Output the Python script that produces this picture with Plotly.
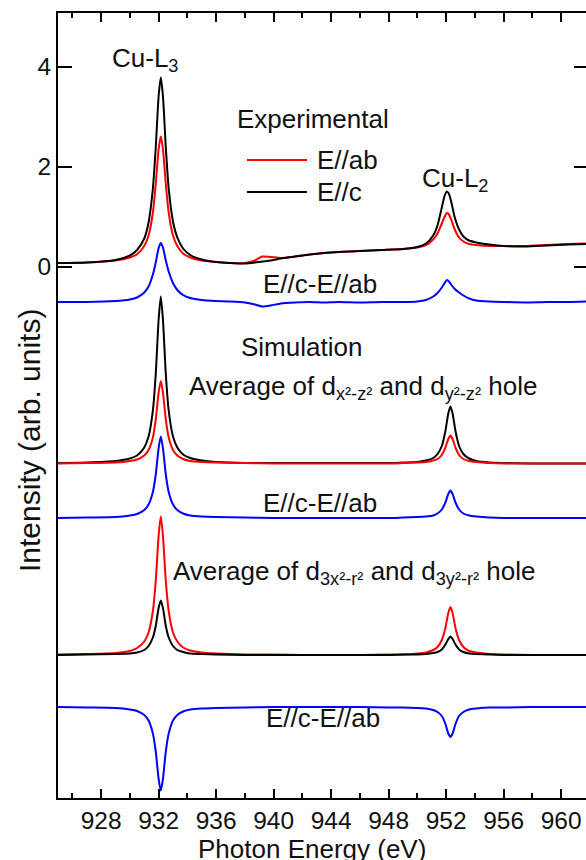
import plotly.graph_objects as go

# ---------------- data ----------------
energy_exp = [925, 927, 929, 930, 930.5, 931, 931.3, 931.6, 931.8, 932.0, 932.15, 932.3, 932.5, 932.7,
              933.0, 933.3, 933.7, 934.2, 935, 936, 937, 938, 938.7, 939.2, 939.8, 940.5, 941.5, 942.5,
              943.5, 944.5, 946, 947.5, 949, 950, 950.6, 951.1, 951.4, 951.7, 951.9, 952.05, 952.2,
              952.4, 952.6, 952.9, 953.2, 953.6, 954.1, 955, 956, 957.5, 959, 960.5, 961.8]

exp_c = [0.07, 0.08, 0.13, 0.22, 0.33, 0.56, 0.88, 1.56, 2.38, 3.41, 3.78, 3.41, 2.38, 1.56,
         0.9, 0.58, 0.36, 0.23, 0.14, 0.09, 0.07, 0.06, 0.08, 0.1, 0.12, 0.16, 0.2, 0.24,
         0.27, 0.29, 0.31, 0.33, 0.35, 0.39, 0.46, 0.62, 0.82, 1.18, 1.42, 1.5, 1.45,
         1.24, 0.98, 0.74, 0.6, 0.52, 0.48, 0.44, 0.41, 0.4, 0.42, 0.44, 0.45]

exp_ab = [0.07, 0.08, 0.12, 0.18, 0.245, 0.41, 0.62, 1.08, 1.65, 2.35, 2.6, 2.35, 1.65, 1.08,
          0.62, 0.41, 0.26, 0.18, 0.12, 0.09, 0.07, 0.07, 0.12, 0.2, 0.19, 0.17, 0.2, 0.24,
          0.27, 0.29, 0.31, 0.33, 0.35, 0.38, 0.43, 0.54, 0.66, 0.86, 1.0, 1.07, 1.04,
          0.9, 0.74, 0.58, 0.5, 0.45, 0.43, 0.41, 0.41, 0.41, 0.43, 0.45, 0.46]

exp_diff = [-0.71, -0.71, -0.69, -0.66, -0.62, -0.52, -0.4, -0.16, 0.08, 0.37, 0.47, 0.38, 0.12, -0.1,
            -0.33, -0.47, -0.57, -0.63, -0.67, -0.69, -0.7, -0.72, -0.76, -0.8, -0.78, -0.74, -0.72, -0.71,
            -0.72, -0.71, -0.72, -0.71, -0.71, -0.7, -0.67, -0.6, -0.53, -0.42, -0.33, -0.27, -0.3,
            -0.38, -0.45, -0.52, -0.58, -0.64, -0.68, -0.7, -0.71, -0.72, -0.71, -0.71, -0.7]

energy_sim = [925, 927, 929, 930, 930.5, 931, 931.3, 931.6, 931.8, 932.0, 932.15, 932.3, 932.5, 932.7,
              933.0, 933.3, 933.7, 934.2, 935, 936, 938, 940, 942, 944, 946, 948, 949, 950, 950.6,
              951.1, 951.4, 951.7, 951.95, 952.15, 952.3, 952.45, 952.65, 952.9, 953.2, 953.6, 954.1,
              955, 956, 958, 960, 961.8]

sim1_c = [-3.93, -3.92, -3.89, -3.84, -3.78, -3.62, -3.40, -2.88, -2.15, -1.06, -0.60, -1.06, -2.15, -2.88,
          -3.40, -3.62, -3.76, -3.83, -3.88, -3.91, -3.93, -3.93, -3.93, -3.93, -3.93, -3.93, -3.92, -3.91, -3.88,
          -3.83, -3.75, -3.59, -3.29, -2.94, -2.80, -2.94, -3.29, -3.59, -3.75, -3.84, -3.89,
          -3.92, -3.93, -3.94, -3.94, -3.94]

sim1_ab = [-3.94, -3.93, -3.92, -3.89, -3.86, -3.78, -3.67, -3.42, -3.06, -2.52, -2.29, -2.52, -3.06, -3.42,
           -3.67, -3.78, -3.85, -3.89, -3.91, -3.92, -3.93, -3.94, -3.94, -3.94, -3.94, -3.94, -3.93, -3.92, -3.91,
           -3.88, -3.85, -3.77, -3.62, -3.45, -3.38, -3.45, -3.62, -3.77, -3.85, -3.89, -3.91,
           -3.93, -3.94, -3.94, -3.94, -3.94]

sim1_diff = [-5.03, -5.02, -5.01, -4.98, -4.95, -4.87, -4.76, -4.51, -4.16, -3.63, -3.40, -3.63, -4.16, -4.51,
             -4.76, -4.87, -4.94, -4.98, -5.00, -5.01, -5.02, -5.03, -5.03, -5.03, -5.03, -5.03, -5.02, -5.01, -5.00,
             -4.98, -4.94, -4.86, -4.72, -4.55, -4.48, -4.55, -4.72, -4.86, -4.94, -4.98, -5.00,
             -5.02, -5.03, -5.03, -5.03, -5.03]

sim2_ab = [-7.76, -7.75, -7.73, -7.69, -7.63, -7.50, -7.32, -6.89, -6.29, -5.38, -5.00, -5.38, -6.29, -6.89,
           -7.32, -7.50, -7.62, -7.68, -7.72, -7.74, -7.76, -7.76, -7.77, -7.77, -7.77, -7.76, -7.76, -7.74, -7.72,
           -7.67, -7.61, -7.47, -7.23, -6.93, -6.81, -6.93, -7.23, -7.47, -7.61, -7.69, -7.72,
           -7.75, -7.76, -7.77, -7.77, -7.77]

sim2_c = [-7.77, -7.76, -7.75, -7.74, -7.72, -7.67, -7.59, -7.42, -7.19, -6.83, -6.68, -6.83, -7.19, -7.42,
          -7.59, -7.67, -7.71, -7.74, -7.75, -7.76, -7.77, -7.77, -7.77, -7.77, -7.77, -7.77, -7.76, -7.76, -7.75,
          -7.73, -7.71, -7.66, -7.56, -7.45, -7.40, -7.45, -7.56, -7.66, -7.71, -7.74, -7.75,
          -7.76, -7.77, -7.77, -7.77, -7.77]

sim2_diff = [-8.81, -8.82, -8.83, -8.86, -8.89, -8.97, -9.08, -9.34, -9.70, -10.25, -10.48, -10.25, -9.70, -9.34,
             -9.08, -8.97, -8.90, -8.86, -8.84, -8.83, -8.82, -8.81, -8.81, -8.81, -8.81, -8.82, -8.82, -8.83, -8.84,
             -8.87, -8.91, -8.99, -9.15, -9.34, -9.41, -9.34, -9.15, -8.99, -8.91, -8.86, -8.84,
             -8.82, -8.82, -8.81, -8.81, -8.81]

x_ticks = [928, 932, 936, 940, 944, 948, 952, 956, 960]
y_ticks = [0, 2, 4]
x_range = [925, 961.73]
y_range = [-10.63, 5.07]

RED = "#ff0000"
BLACK = "#000000"
BLUE = "#0000ff"
FONT = "Arial, 'Liberation Sans', Helvetica, sans-serif"

fig = go.Figure()

def add(x, y, color):
    fig.add_trace(go.Scatter(x=x, y=y, mode="lines", line=dict(color=color, width=2, shape="spline", smoothing=0.6),
                             showlegend=False, hoverinfo="skip"))

add(energy_exp, exp_ab, RED)
add(energy_exp, exp_c, BLACK)
add(energy_exp, exp_diff, BLUE)
add(energy_sim, sim1_c, BLACK)
add(energy_sim, sim1_ab, RED)
add(energy_sim, sim1_diff, BLUE)
add(energy_sim, sim2_ab, RED)
add(energy_sim, sim2_c, BLACK)
add(energy_sim, sim2_diff, BLUE)

# dummy trace for right-side ticks
fig.add_trace(go.Scatter(x=[None], y=[None], yaxis="y2", showlegend=False, hoverinfo="skip"))

ann_font = dict(family=FONT, size=26, color="#111")
annotations = [
    dict(text="Cu-L<sub>3</sub>", x=931.05, y=4.15),
    dict(text="Experimental", x=942.74, y=2.95),
    dict(text="E//ab", x=942.9, y=2.13, xanchor="left"),
    dict(text="E//c", x=942.9, y=1.49, xanchor="left"),
    dict(text="Cu-L<sub>2</sub>", x=952.62, y=1.75),
    dict(text="E//c-E//ab", x=943.2, y=-0.35),
    dict(text="Simulation", x=941.97, y=-1.61),
    dict(text="Average of d<sub>x²-z²</sub> and d<sub>y²-z²</sub> hole", x=946.2, y=-2.42),
    dict(text="E//c-E//ab", x=943.2, y=-4.73),
    dict(text="Average of d<sub>3x²-r²</sub> and d<sub>3y²-r²</sub> hole", x=945.66, y=-6.12),
    dict(text="E//c-E//ab", x=943.4, y=-9.03),
]
for a in annotations:
    a.setdefault("xanchor", "center")
    fig.add_annotation(xref="x", yref="y", showarrow=False, yanchor="middle", font=ann_font, **a)

# axis titles as annotations (pixel-placed)
fig.add_annotation(text="Photon Energy (eV)", xref="paper", yref="paper", x=(312 - 58) / 528, y=-(849 - 798) / 785,
                   showarrow=False, xanchor="center", yanchor="middle", font=ann_font)
fig.add_annotation(text="Intensity (arb. units)", xref="paper", yref="paper", x=-(58 - 29) / 528, y=(798 - 441) / 785,
                   showarrow=False, xanchor="center", yanchor="middle", textangle=-90,
                   font=dict(family=FONT, size=30, color="#111"))

# legend key lines
fig.add_shape(type="line", xref="x", yref="y", x0=938.15, x1=942.32, y0=2.13, y1=2.13, line=dict(color=RED, width=2))
fig.add_shape(type="line", xref="x", yref="y", x0=938.15, x1=942.32, y0=1.49, y1=1.49, line=dict(color=BLACK, width=2))

fig.update_layout(
    width=586, height=860,
    margin=dict(l=58, r=0, t=13, b=62),
    paper_bgcolor="white", plot_bgcolor="white",
    font=dict(family=FONT, size=24, color="#111"),
    hovermode=False,
    xaxis=dict(range=x_range, tickvals=x_ticks, ticks="inside", ticklen=9, tickwidth=2, tickcolor="black",
               showline=True, linecolor="black", linewidth=2, mirror="ticks", showgrid=False, zeroline=False,
               minor=dict(dtick=2, tick0=926, ticks="inside", ticklen=5, tickwidth=2, tickcolor="black"),
               tickfont=dict(size=24.5)),
    yaxis=dict(range=y_range, tickvals=y_ticks, ticks="inside", ticklen=14, tickwidth=2, tickcolor="black",
               showline=True, linecolor="black", linewidth=2, mirror=False, showgrid=False, zeroline=False,
               tickfont=dict(size=24.5)),
    yaxis2=dict(range=y_range, overlaying="y", side="right", tickvals=y_ticks, ticks="inside", ticklen=12,
                tickwidth=2, tickcolor="black", showline=False, showgrid=False, zeroline=False,
                showticklabels=False),
)

fig.write_html("out.html", config={"displayModeBar": False, "staticPlot": True},
               post_script="document.body.style.margin='0';document.body.style.overflow='hidden';")
